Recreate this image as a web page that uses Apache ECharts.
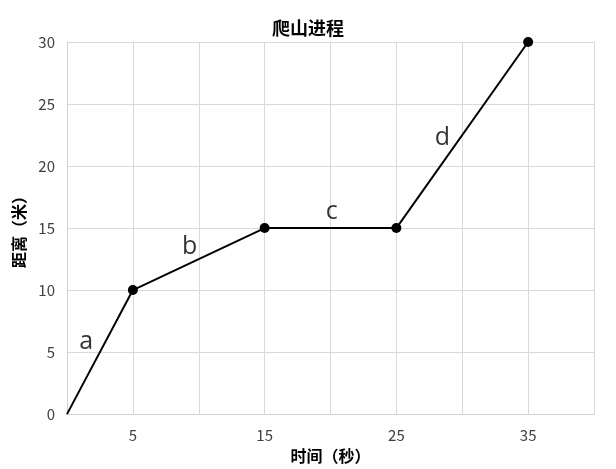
<!DOCTYPE html>
<html><head><meta charset="utf-8">
<script src="https://cdn.jsdelivr.net/npm/echarts@6/dist/echarts.min.js"></script>
<style>html,body{margin:0;padding:0;background:#fff}#c{width:616px;height:469px}</style>
</head><body><div id="c"></div>
<script>
const timeX = [0, 5, 15, 25, 35];
const distY = [0, 10, 15, 15, 30];
const segLabels = ['a', 'b', 'c', 'd'];
const segLabelX = [1.45, 9.3, 20.1, 28.5];
const segLabelY = [5.8, 13.5, 16.3, 22.3];
const xTickLabels = [5, 15, 25, 35];

const FONT = '"Noto Sans CJK SC", "Noto Sans", sans-serif';
const chart = echarts.init(document.getElementById('c'));
chart.setOption({
  animation: false,
  title: {
    text: '爬山进程', left: 'center', top: 14,
    textStyle: { fontFamily: FONT, fontSize: 18, fontWeight: 'bold', color: '#000' }
  },
  grid: { left: 67, right: 22, top: 42, bottom: 54, containLabel: false },
  xAxis: {
    type: 'value', min: 0, max: 40, interval: 5,
    name: '时间（秒）', nameLocation: 'middle', nameGap: 28,
    nameTextStyle: { fontFamily: FONT, fontSize: 16, fontWeight: 'bold', color: '#000' },
    axisLine: { show: true, lineStyle: { color: '#d0d0d0' } },
    axisTick: { show: false },
    splitLine: { show: true, lineStyle: { color: '#d9d9d9' } },
    axisLabel: {
      fontFamily: FONT, fontSize: 15, color: '#404040', margin: 14,
      formatter: v => xTickLabels.includes(v) ? String(v) : ''
    }
  },
  yAxis: {
    type: 'value', min: 0, max: 30, interval: 5,
    name: '距离（米）', nameLocation: 'middle', nameGap: 40, nameRotate: 90,
    nameTextStyle: { fontFamily: FONT, fontSize: 16, fontWeight: 'bold', color: '#000' },
    axisLine: { show: true, lineStyle: { color: '#d0d0d0' } },
    axisTick: { show: false },
    splitLine: { show: true, lineStyle: { color: '#d9d9d9' } },
    axisLabel: { fontFamily: FONT, fontSize: 15, color: '#404040', margin: 12 }
  },
  series: [
    {
      type: 'line',
      data: timeX.map((x, i) => [x, distY[i]]),
      lineStyle: { color: '#000', width: 2 },
      itemStyle: { color: '#000' },
      symbol: 'circle',
      symbolSize: (v, p) => p.dataIndex === 0 ? 0 : 10,
      showSymbol: true
    },
    {
      type: 'scatter',
      data: segLabels.map((t, i) => ({ value: [segLabelX[i], segLabelY[i]], name: t })),
      symbolSize: 0,
      label: {
        show: true, position: 'inside', formatter: p => p.name,
        fontFamily: '"Open Sans", sans-serif', fontSize: 25, color: '#000'
      }
    }
  ]
});
</script></body></html>
